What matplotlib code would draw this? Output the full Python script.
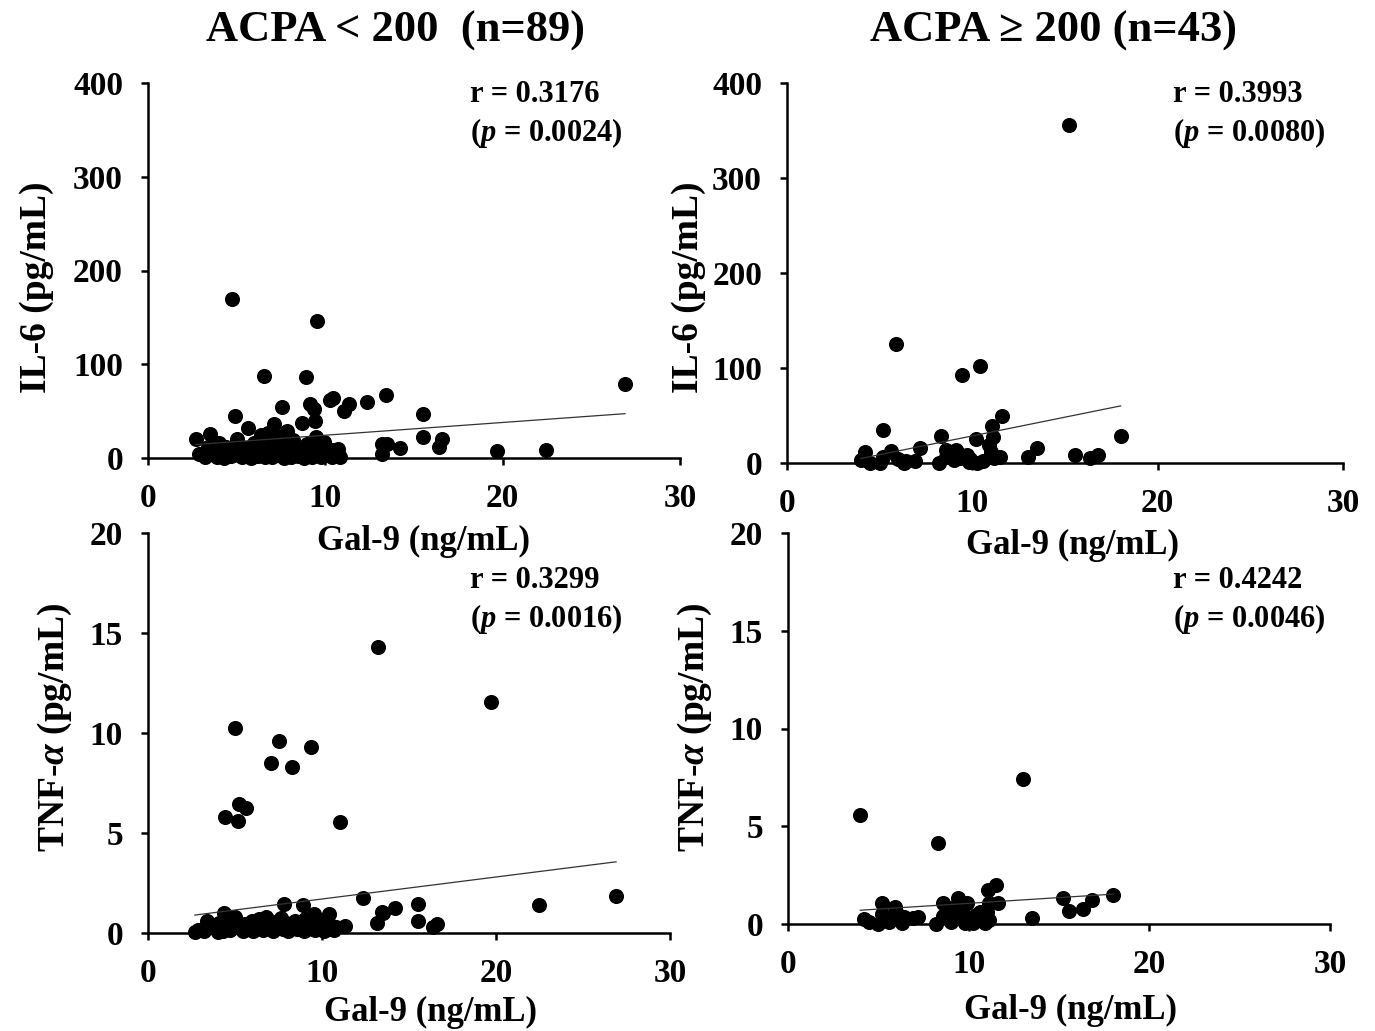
import numpy as np
import matplotlib.pyplot as plt

plt.rcParams['font.family'] = ['Liberation Serif', 'DejaVu Serif']
plt.rcParams['font.weight'] = 'bold'
plt.rcParams['mathtext.fontset'] = 'custom'
plt.rcParams['mathtext.rm'] = 'Liberation Serif:bold'
plt.rcParams['mathtext.it'] = 'Liberation Serif:italic:bold'

# ACPA < 200 group (n=89): Gal-9 (ng/mL), IL-6 (pg/mL), TNF-a (pg/mL)
gal9_low = [26.9, 22.45, 19.7, 16.6, 16.4, 15.53, 15.49, 14.2, 13.44, 13.2,
            13.5, 13.18, 12.37, 11.34, 11.05, 10.43, 10.27, 10.83, 10.45, 9.98,
            9.55, 9.35, 9.16, 9.4, 9.47, 8.89, 8.7, 8.3, 7.82, 7.54,
            7.09, 6.79, 6.54, 6.35, 5.64, 5.25, 5.15, 5.0, 4.89, 4.75,
            4.4, 4.35, 5.0, 3.52, 2.69, 2.88, 3.2, 3.6, 3.9, 4.1,
            4.3, 4.6, 4.7, 4.95, 5.3, 5.45, 5.55, 5.8, 5.95, 6.05,
            6.2, 6.4, 6.6, 6.7, 6.9, 7.0, 7.2, 7.35, 7.45, 7.65,
            7.75, 7.95, 8.05, 8.2, 8.45, 8.55, 8.8, 8.95, 9.05, 9.25,
            9.6, 9.75, 9.9, 10.1, 10.35, 10.6, 3.4, 4.0, 10.7]
il6_low = [78.9, 8.5, 7.8, 20.3, 12.0, 46.8, 22.5, 10.3, 67.0, 15.0,
           14.6, 4.3, 60.0, 57.6, 50.5, 63.6, 62.0, 1.4, 8.5, 13.0,
           146.0, 51.9, 57.6, 39.8, 22.7, 86.0, 37.0, 5.0, 29.1, 54.4,
           36.3, 26.3, 87.0, 24.5, 32.3, 8.0, 3.0, 20.3, 44.8, 170.0,
           12.0, 2.0, 6.0, 25.6, 20.3, 4.0, 1.0, 8.0, 1.5, 6.0,
           0.5, 10.0, 2.5, 14.0, 1.0, 11.0, 4.0, 0.5, 16.0, 7.0,
           2.0, 12.0, 0.8, 18.0, 5.0, 1.5, 10.0, 22.0, 3.0, 0.5,
           14.0, 6.0, 1.0, 19.0, 2.5, 9.0, 0.5, 15.0, 4.0, 1.2,
           7.0, 0.8, 17.0, 3.0, 1.0, 4.0, 12.0, 16.0, 10.0]
tnf_low = [1.85, 1.4, 11.55, 0.45, 0.32, 1.43, 0.6, 1.27, 1.07, 14.3,
           1.0, 0.48, 1.73, 0.35, 5.55, 0.93, 0.4, 0.3, 0.2, 0.5,
           0.95, 9.3, 0.3, 0.6, 0.2, 1.4, 0.5, 8.3, 1.43, 9.6,
           8.5, 0.82, 0.5, 0.3, 6.25, 6.45, 5.6, 10.25, 0.4, 0.6,
           5.8, 0.98, 0.82, 0.4, 0.07, 0.15, 0.1, 0.3, 0.2, 0.5,
           0.1, 0.35, 0.15, 0.55, 0.3, 0.1, 0.45, 0.2, 0.6, 0.1,
           0.35, 0.7, 0.15, 0.4, 0.25, 0.6, 0.1, 0.45, 0.3, 0.75,
           0.2, 0.5, 0.1, 0.35, 0.6, 0.2, 0.45, 0.1, 0.7, 0.25,
           0.15, 0.4, 0.3, 0.1, 0.55, 0.2, 0.6, 0.05, 0.15]

# ACPA >= 200 group (n=43)
gal9_high = [4.2, 4.5, 4.0, 5.0, 5.2, 5.2, 5.6, 5.9, 6.0, 6.3,
             6.4, 6.9, 7.2, 8.2, 8.3, 8.6, 8.6, 9.0, 9.1, 9.2,
             9.4, 9.45, 9.7, 9.8, 9.9, 10.2, 10.25, 10.4, 10.6, 10.9,
             11.0, 11.05, 11.1, 11.15, 11.5, 11.6, 13.0, 13.5, 15.2, 15.55,
             16.35, 16.8, 18.0]
il6_high = [11.9, 0.3, 3.0, 0.0, 34.7, 6.6, 13.0, 125.0, 4.0, 0.3,
            2.0, 2.4, 15.4, 0.3, 28.4, 13.7, 6.0, 3.0, 13.7, 10.0,
            5.0, 92.6, 8.4, 1.4, 4.0, 24.9, 0.3, 102.0, 2.0, 18.9,
            12.0, 39.3, 27.0, 4.9, 6.6, 49.5, 6.0, 15.4, 356.0, 8.4,
            4.9, 8.4, 28.4]
tnf_high = [0.26, 0.12, 5.6, 0.0, 1.09, 0.5, 0.12, 0.88, 0.6, 0.04,
            0.37, 0.3, 0.34, 0.0, 4.15, 1.06, 0.4, 0.12, 0.8, 0.5,
            1.31, 0.9, 0.55, 0.04, 1.06, 0.2, 0.07, 0.46, 0.63, 0.07,
            0.63, 1.74, 1.09, 0.2, 1.99, 1.09, 7.4, 0.29, 1.31, 0.68,
            0.75, 1.23, 1.48]

# regression lines (intercept, slope)
fit_il6_low = (10.7, 1.36)
fit_il6_high = (-11.0, 3.95)
fit_tnf_low = (0.60, 0.110)
fit_tnf_high = (0.47, 0.0587)

stats_text = [("r = 0.3176", "0.0024"), ("r = 0.3993", "0.0080"),
              ("r = 0.3299", "0.0016"), ("r = 0.4242", "0.0046")]

W, H = 1375, 1031
fig = plt.figure(figsize=(W / 100, H / 100), dpi=100)


def fx(px):
    return px / W


def fy(py):
    return 1 - py / H


def make_ax(left, right, bottom, top):
    return fig.add_axes([fx(left), fy(bottom), fx(right) - fx(left), fy(top) - fy(bottom)])


def draw_panel(ax, x, y, fit, ymax, yticks):
    x = np.array(x)
    y = np.array(y)
    ax.scatter(x, y, s=118, color='black', zorder=3, clip_on=False, linewidths=0)
    xl = np.array([x.min(), x.max()])
    ax.plot(xl, fit[0] + fit[1] * xl, color='#333333', lw=0.9, zorder=4)
    ax.set_xlim(0, 30)
    ax.set_ylim(0, ymax)
    ax.set_xticks([0, 10, 20, 30])
    ax.set_yticks(yticks)
    for s in ['top', 'right']:
        ax.spines[s].set_visible(False)
    for s in ['left', 'bottom']:
        ax.spines[s].set_linewidth(1.8)
    ax.tick_params(direction='out', length=5, width=1.8, labelsize=24, pad=13)
    for lab in ax.get_xticklabels() + ax.get_yticklabels():
        lab.set_fontweight('bold')


ax1 = make_ax(148, 680, 458, 83)
ax2 = make_ax(787, 1343, 463, 83)
ax3 = make_ax(148, 670, 933, 533)
ax4 = make_ax(788, 1330, 924, 533)

draw_panel(ax1, gal9_low, il6_low, fit_il6_low, 400, [0, 100, 200, 300, 400])
draw_panel(ax2, gal9_high, il6_high, fit_il6_high, 400, [0, 100, 200, 300, 400])
draw_panel(ax3, gal9_low, tnf_low, fit_tnf_low, 20, [0, 5, 10, 15, 20])
draw_panel(ax4, gal9_high, tnf_high, fit_tnf_high, 20, [0, 5, 10, 15, 20])

# r / p annotations
for (px, py), (r_txt, p_txt) in zip([(470, 95), (1173, 95), (470, 581), (1173, 581)], stats_text):
    fig.text(fx(px), fy(py), r_txt, fontsize=22, fontweight='bold', ha='left', va='center')
    fig.text(fx(px), fy(py + 38), r'($\mathit{p}$ = ' + p_txt + ')', fontsize=22,
             fontweight='bold', ha='left', va='center')

fig.text(fx(395), fy(31), "ACPA < 200  (n=89)", fontsize=32, fontweight='bold', ha='center', va='center')
fig.text(fx(1053), fy(31), "ACPA \u2265 200 (n=43)", fontsize=32, fontweight='bold', ha='center', va='center')

for px, py in [(424, 541), (1072, 545), (431, 1012), (1071, 1010)]:
    fig.text(fx(px), fy(py), "Gal-9 (ng/mL)", fontsize=25, fontweight='bold', ha='center', va='center')
for px, py, lab in [(37, 287, "IL-6 (pg/mL)"), (688, 287, "IL-6 (pg/mL)"),
                    (55, 727, r"TNF-$\mathit{\alpha}$ (pg/mL)"), (695, 727, r"TNF-$\mathit{\alpha}$ (pg/mL)")]:
    fig.text(fx(px), fy(py), lab, fontsize=27, fontweight='bold', ha='center', va='center', rotation=90)

plt.savefig('out.png', dpi=100)
